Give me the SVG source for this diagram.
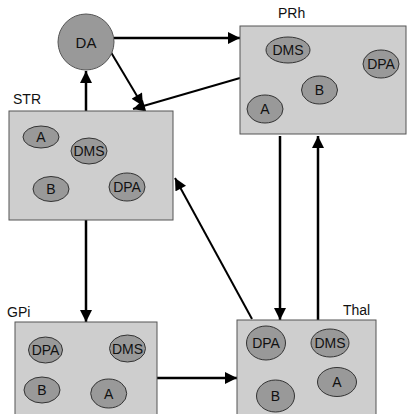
<svg xmlns="http://www.w3.org/2000/svg" width="407" height="414" viewBox="0 0 407 414">
<defs>
<style>
.box{fill:#cecece;stroke:#555;stroke-width:1}
.el{fill:#999;stroke:#333;stroke-width:1}
.t{font-family:"Liberation Sans",Arial,sans-serif;font-size:14px;fill:#111;text-anchor:middle;dominant-baseline:central}
.lbl{font-family:"Liberation Sans",Arial,sans-serif;font-size:14px;fill:#111}
.c{stroke:#000;stroke-width:2.5;fill:none;marker-end:url(#ah)}
.c1{stroke:#000;stroke-width:2;fill:none;marker-end:url(#ah2)}
</style>
<marker id="ah" viewBox="0 0 10 10" refX="10" refY="5" markerWidth="5.2" markerHeight="4.8" orient="auto" markerUnits="strokeWidth">
<path d="M0,0 L10,5 L0,10 z" fill="#000"/>
</marker>
<marker id="ah2" viewBox="0 0 10 10" refX="10" refY="5" markerWidth="6.5" markerHeight="6" orient="auto" markerUnits="strokeWidth">
<path d="M0,0 L10,5 L0,10 z" fill="#000"/>
</marker>
</defs>
<rect width="407" height="414" fill="#fff"/>
<g id="connectors">
<line class="c" x1="86" y1="111" x2="86" y2="71"/>
<line class="c" x1="114" y1="38" x2="240" y2="38"/>
<line class="c1" x1="109" y1="49" x2="143" y2="106"/>
<line class="c1" x1="240" y1="78" x2="133" y2="109"/>
<line class="c" x1="86" y1="220" x2="86" y2="322"/>
<line class="c" x1="157" y1="378" x2="237" y2="378"/>
<line class="c1" x1="252" y1="319" x2="175" y2="178"/>
<line class="c" x1="280" y1="136" x2="280" y2="320"/>
<line class="c" x1="318" y1="320" x2="318" y2="136"/>
</g>
<g id="DA">
<circle cx="86" cy="42" r="28" fill="#999" stroke="#555"/>
<text class="t" x="86" y="42" style="font-size:15px">DA</text>
</g>
<g id="STR">
<text class="lbl" x="13" y="104">STR</text>
<rect class="box" x="9" y="111" width="164" height="109"/>
<ellipse class="el" cx="41" cy="137" rx="18" ry="11"/>
<text class="t" x="41" y="137">A</text>
<ellipse class="el" cx="89" cy="151" rx="18" ry="13"/>
<text class="t" x="89" y="151">DMS</text>
<ellipse class="el" cx="51" cy="189" rx="18" ry="12.5"/>
<text class="t" x="51" y="189">B</text>
<ellipse class="el" cx="127" cy="187" rx="18" ry="14"/>
<text class="t" x="127" y="187">DPA</text>
</g>
<g id="PRh">
<text class="lbl" x="278" y="18">PRh</text>
<rect class="box" x="240" y="26" width="166" height="108"/>
<ellipse class="el" cx="288" cy="50" rx="22" ry="13"/>
<text class="t" x="288" y="50">DMS</text>
<ellipse class="el" cx="381" cy="64" rx="18" ry="14"/>
<text class="t" x="381" y="64">DPA</text>
<ellipse class="el" cx="319.5" cy="90" rx="18" ry="14"/>
<text class="t" x="319.5" y="90">B</text>
<ellipse class="el" cx="265" cy="109" rx="18" ry="14"/>
<text class="t" x="265" y="109">A</text>
</g>
<g id="GPi">
<text class="lbl" x="7" y="317">GPi</text>
<rect class="box" x="15" y="322" width="142" height="100"/>
<ellipse class="el" cx="45.5" cy="350" rx="17" ry="13"/>
<text class="t" x="45.5" y="350">DPA</text>
<ellipse class="el" cx="127.5" cy="348.5" rx="18" ry="13.5"/>
<text class="t" x="127.5" y="348.5">DMS</text>
<ellipse class="el" cx="42" cy="390" rx="18" ry="13"/>
<text class="t" x="42" y="390">B</text>
<ellipse class="el" cx="108.7" cy="393.5" rx="18" ry="14.5"/>
<text class="t" x="108.7" y="393.5">A</text>
</g>
<g id="Thal">
<text class="lbl" x="343" y="315">Thal</text>
<rect class="box" x="237" y="320" width="139" height="100"/>
<ellipse class="el" cx="266" cy="343" rx="19.5" ry="17"/>
<text class="t" x="266" y="343">DPA</text>
<ellipse class="el" cx="330" cy="343" rx="19" ry="14"/>
<text class="t" x="330" y="343">DMS</text>
<ellipse class="el" cx="337" cy="382" rx="19.5" ry="14.5"/>
<text class="t" x="337" y="382">A</text>
<ellipse class="el" cx="275.5" cy="396" rx="19" ry="16"/>
<text class="t" x="275.5" y="396">B</text>
</g>
</svg>
